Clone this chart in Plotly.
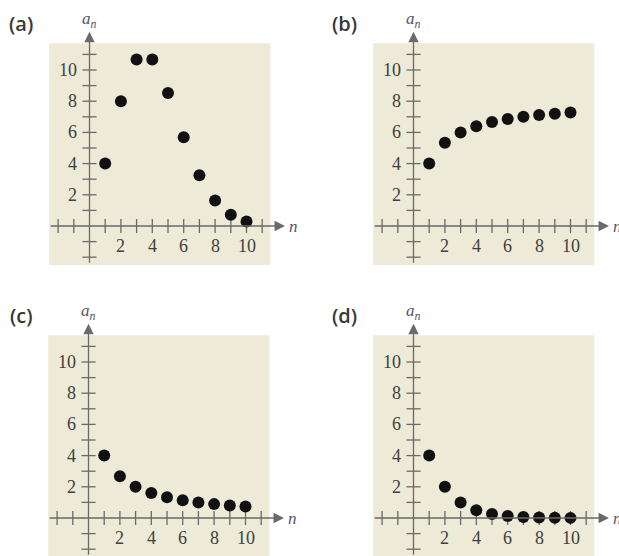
import plotly.graph_objects as go

# ── data ──────────────────────────────────────────────────────────────────────
n_vals = [1, 2, 3, 4, 5, 6, 7, 8, 9, 10]
a_panel = [4, 8, 10.67, 10.67, 8.53, 5.69, 3.25, 1.63, 0.72, 0.29]
b_panel = [4, 5.33, 6, 6.4, 6.67, 6.86, 7, 7.11, 7.2, 7.27]
c_panel = [4, 2.67, 2, 1.6, 1.33, 1.14, 1, 0.89, 0.8, 0.73]
d_panel = [4, 2, 1, 0.5, 0.25, 0.125, 0.06, 0.03, 0.016, 0.008]
panel_names = ["(a)", "(b)", "(c)", "(d)"]
tick_labels = [2, 4, 6, 8, 10]
minor_ticks = [-2, -1, 1, 2, 3, 4, 5, 6, 7, 8, 9, 10, 11]

W, H = 619, 556
SX, SY = 15.7, 15.6
BG = "#EEEAD8"
AXIS = "#6a6a6a"
TEXT = "#404040"

# pixel origin of each panel and the pixel box it owns
panels = [
    dict(vals=a_panel, origin=(89.5, 226), box=(0, 309, 0, 280), label_px=(21, 24)),
    dict(vals=b_panel, origin=(413.5, 226), box=(310, 619, 0, 280), label_px=(344, 24)),
    dict(vals=c_panel, origin=(88.5, 518), box=(0, 309, 280, 556), label_px=(21, 315)),
    dict(vals=d_panel, origin=(413.5, 518), box=(310, 619, 280, 556), label_px=(344, 315)),
]

fig = go.Figure()
layout = dict(
    width=W, height=H,
    margin=dict(l=0, r=0, t=0, b=0),
    paper_bgcolor="white", plot_bgcolor="rgba(0,0,0,0)",
    showlegend=False,
    shapes=[], annotations=[],
)

for i, p in enumerate(panels):
    k = "" if i == 0 else str(i + 1)
    xr, yr = "x" + k, "y" + k
    ox, oy = p["origin"]
    bx0, bx1, by0, by1 = p["box"]
    layout["xaxis" + k] = dict(
        domain=[bx0 / W, bx1 / W], anchor=yr,
        range=[(bx0 - ox) / SX, (bx1 - ox) / SX],
        visible=False, fixedrange=True,
    )
    layout["yaxis" + k] = dict(
        domain=[1 - by1 / H, 1 - by0 / H], anchor=xr,
        range=[(oy - by1) / SY, (oy - by0) / SY],
        visible=False, fixedrange=True,
    )

    # beige panel background
    layout["shapes"].append(dict(
        type="rect", xref=xr, yref=yr, x0=-2.57, x1=11.52, y0=-2.5, y1=11.72,
        fillcolor=BG, line_width=0, layer="below",
    ))
    # crossing ticks
    for t in minor_ticks:
        layout["shapes"].append(dict(
            type="line", xref=xr, yref=yr, x0=t, x1=t, y0=-0.45, y1=0.45,
            line=dict(color=AXIS, width=1.3), layer="below",
        ))
        layout["shapes"].append(dict(
            type="line", xref=xr, yref=yr, x0=-0.45, x1=0.45, y0=t, y1=t,
            line=dict(color=AXIS, width=1.3), layer="below",
        ))
    # axes with arrowheads
    layout["annotations"].append(dict(
        xref=xr, yref=yr, axref=xr, ayref=yr, x=12.45, y=0, ax=-2.57, ay=0,
        text="", showarrow=True, arrowhead=2, arrowsize=1.6, arrowwidth=1.3,
        arrowcolor=AXIS, standoff=0, startstandoff=0,
    ))
    layout["annotations"].append(dict(
        xref=xr, yref=yr, axref=xr, ayref=yr, x=0, y=12.45, ax=0, ay=-2.45,
        text="", showarrow=True, arrowhead=2, arrowsize=1.6, arrowwidth=1.3,
        arrowcolor=AXIS, standoff=0, startstandoff=0,
    ))
    # tick labels
    for t in tick_labels:
        layout["annotations"].append(dict(
            xref=xr, yref=yr, x=t, y=0, yshift=-20, text=str(t), showarrow=False,
            font=dict(family="Liberation Serif", size=18, color=TEXT),
        ))
        layout["annotations"].append(dict(
            xref=xr, yref=yr, x=0, y=t, xshift=-11, xanchor="right", text=str(t),
            showarrow=False,
            font=dict(family="Liberation Serif", size=18, color=TEXT),
        ))
    # axis titles
    layout["annotations"].append(dict(
        xref=xr, yref=yr, x=0, y=13.2, text="<i>a<sub>n</sub></i>", showarrow=False,
        font=dict(family="Liberation Serif", size=17, color="#55556a"),
    ))
    layout["annotations"].append(dict(
        xref=xr, yref=yr, x=12.6, y=0, xanchor="left", text="<i>n</i>", showarrow=False,
        font=dict(family="Liberation Serif", size=17, color="#55556a"),
    ))
    # panel letter
    lx, ly = p["label_px"]
    layout["annotations"].append(dict(
        xref="paper", yref="paper", x=lx / W, y=1 - ly / H, text=panel_names[i],
        xanchor="center", yanchor="middle", showarrow=False,
        font=dict(family="Open Sans", size=20, color="#383838", weight=600),
    ))

    fig.add_trace(go.Scatter(
        x=n_vals, y=p["vals"], mode="markers", xaxis=xr, yaxis=yr,
        marker=dict(color="#111111", size=12),
        cliponaxis=False,
    ))

fig.update_layout(**layout)
fig.write_html("out.html", config={"displayModeBar": False},
               post_script="document.body.style.margin='0px';")
